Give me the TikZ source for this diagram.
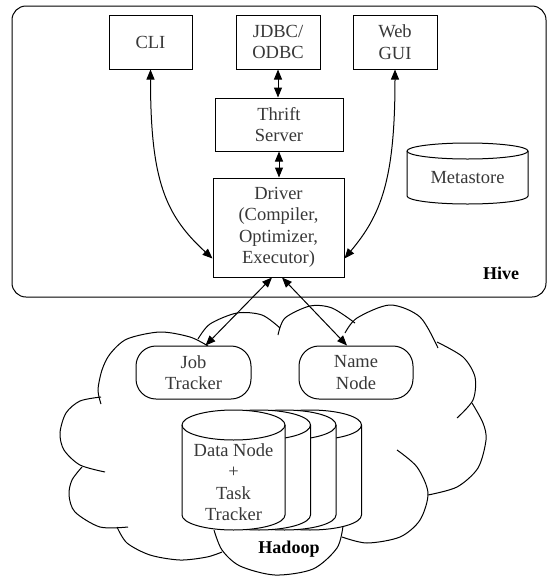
\documentclass[tikz,border=0pt]{standalone}
\usepackage{fontspec}
\setmainfont{Liberation Serif}
\usetikzlibrary{arrows.meta,calc}
\begin{document}
\begin{tikzpicture}[x=1pt,y=-1pt,
  every node/.style={font=\fontsize{18.5}{21.5}\selectfont, text=black!78, align=center, inner sep=0pt},
  box/.style={draw=black, line width=1pt, fill=white},
  pill/.style={box, rounded corners=20pt},
  lbl/.style={font=\fontsize{18}{21}\selectfont\bfseries, text=black},
  ln/.style={line width=1pt},
  arr/.style={line width=1pt, {Triangle[length=10pt,width=8pt]}-{Triangle[length=10pt,width=8pt]}},
  cl/.style={line width=1pt},
  cyl/.style={line width=1pt, fill=white}
]
\useasboundingbox (0,0) rectangle (548,576);

% Hive frame
\node[draw=black, line width=1pt, rounded corners=14pt, minimum width=534pt, minimum height=291pt] (hive) at (279,151.5) {};
\node[lbl] (hivelbl) at (501,273) {Hive};

% Hive components
\node[box, minimum width=83pt, minimum height=54pt] (cli) at (150.5,42) {CLI};
\node[box, minimum width=84pt, minimum height=54pt] (jdbc) at (278,42) {JDBC/\\ODBC};
\node[box, minimum width=84pt, minimum height=54pt] (web) at (395,42) {Web\\GUI};
\node[box, minimum width=128pt, minimum height=53pt] (thrift) at (279,124.5) {Thrift\\Server};
\node[box, minimum width=131pt, minimum height=99pt] (drv) at (278.5,227.5) {Driver\\(Compiler,\\Optimizer,\\Executor)};

% Metastore cylinder
\draw[cyl] (407,151) -- (407,196) arc[start angle=180,end angle=360,x radius=60.5pt,y radius=8pt] -- (528,151) arc[start angle=0,end angle=180,x radius=60.5pt,y radius=8pt] -- cycle;
\draw[ln] (407,151) arc[start angle=180,end angle=360,x radius=60.5pt,y radius=8pt];
\node (ms) at (467.5,178) {Metastore};

% Cloud
\draw[cl] plot[smooth] coordinates {(101,404) (98,390) (102,370) (110,354) (127,339) (160,332) (190,337) (208,346)};
\draw[cl] plot[smooth] coordinates {(198,339) (210,324) (237,313) (262,315) (280,328)};
\draw[cl] plot[smooth] coordinates {(278,335) (285,318) (310,306) (332,308) (355,323)};
\draw[cl] plot[smooth] coordinates {(345,333) (357,318) (390,305) (420,317) (438,348)};
\draw[cl] plot[smooth] coordinates {(437,342) (463,357) (475,377) (473,400) (457,418)};
\draw[cl] plot[smooth] coordinates {(472,403) (483,423) (486,440) (478,468) (457,487) (428,495)};
\draw[cl] plot[smooth] coordinates {(397,450) (417,467) (428,493) (420,520) (400,537) (367,543) (342,537)};
\draw[cl] plot[smooth] coordinates {(343,526) (337,548) (313,569) (275,575) (240,566) (222,550) (214,530)};
\draw[cl] plot[smooth] coordinates {(117,527) (127,543) (150,555) (180,560) (207,557) (222,552)};
\draw[cl] plot[smooth] coordinates {(82,467) (72,480) (69,495) (75,512) (100,527) (128,527)};
\draw[cl] plot[smooth] coordinates {(101,397) (80,401) (66,413) (60,433) (64,450) (80,465) (105,472)};
\node[lbl] (hadoop) at (289,549) {Hadoop};

% Data node cylinders (back to front)
\foreach \dx in {76.5,51,25.5,0}{
  \draw[cyl] (182+\dx,425) -- (182+\dx,515) arc[start angle=180,end angle=360,x radius=51.5pt,y radius=15pt] -- (285+\dx,425) arc[start angle=0,end angle=180,x radius=51.5pt,y radius=15pt] -- cycle;
  \draw[ln] (182+\dx,425) arc[start angle=180,end angle=360,x radius=51.5pt,y radius=15pt];
}
\node (dn) at (233.5,482) {Data Node\\+\\Task\\Tracker};

% Hadoop components
\node[pill, minimum width=115pt, minimum height=53pt] (jt) at (193.5,372.5) {Job\\Tracker};
\node[pill, minimum width=114pt, minimum height=53pt] (nn) at (356,372.5) {Name\\Node};

% Connectors
\coordinate (dl) at ($(drv.north west)!0.81!(drv.south west)$);
\coordinate (dr) at ($(drv.north east)!0.81!(drv.south east)$);
\coordinate (db1) at ($(drv.south)+(-6.5,0)$);
\coordinate (db2) at ($(drv.south)+(3.5,0)$);
\coordinate (jtt) at ($(jt.north)+(12,0)$);
\coordinate (nnt) at ($(nn.north)+(-9,0)$);

\draw[arr] (cli.south) .. controls (150.5,180) and (165,215) .. (dl);
\draw[arr] (web.south) .. controls (395,180) and (381,215) .. (dr);
\draw[arr] (jdbc.south) -- (jdbc.south |- thrift.north);
\draw[arr] (thrift.south) -- (thrift.south |- drv.north);
\draw[arr] (db1) -- (jtt);
\draw[arr] (db2) -- (nnt);
\end{tikzpicture}
\end{document}
